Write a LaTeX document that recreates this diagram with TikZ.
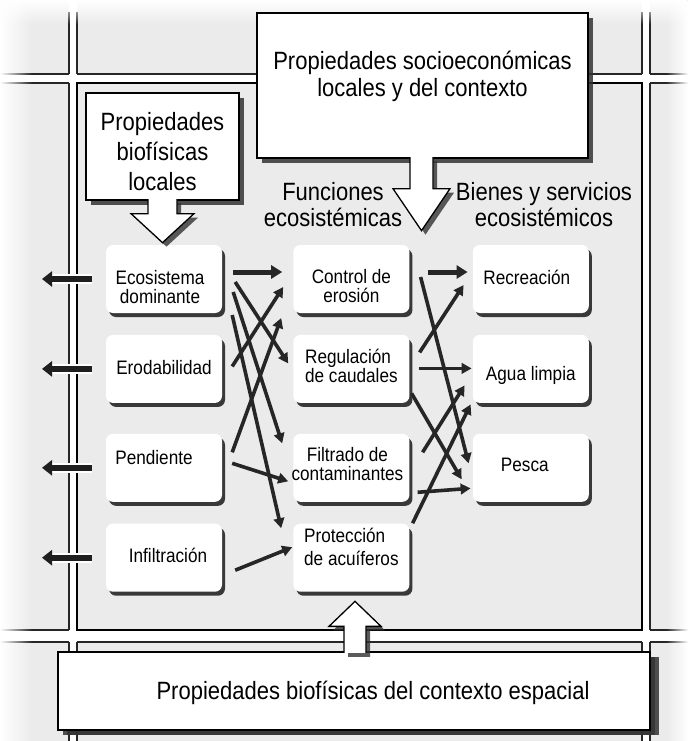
\documentclass[tikz,border=0pt]{standalone}
\usepackage{fontspec}
\setmainfont{Liberation Sans}[FakeStretch=0.88]
\usetikzlibrary{positioning, arrows.meta, shadows, fadings}

\tikzfading[name=fadedown, top color=transparent!0, bottom color=transparent!100]
\tikzfading[name=faderight, left color=transparent!0, right color=transparent!100]
\tikzfading[name=fadeleft, left color=transparent!100, right color=transparent!0]

\begin{document}
\begin{tikzpicture}[
    x=1pt, y=-1pt,
    panel/.style={fill=black!8},
    rim/.style={draw=black!85, line width=1.2pt},
    cell/.style={rectangle, rounded corners=7pt, fill=white, minimum width=116pt, minimum height=68pt, inner sep=0pt,
      drop shadow={shadow xshift=3pt, shadow yshift=-4pt, opacity=0.9, fill=black!85}},
    celltxt/.style={font=\fontsize{19.5}{19}\selectfont, align=center, inner sep=0pt},
    callout/.style={rectangle, draw, line width=1.3pt, fill=white, inner sep=0pt,
      drop shadow={shadow xshift=5pt, shadow yshift=-5pt, opacity=0.85, fill=black!80}},
    bigtxt/.style={font=\fontsize{25}{27}\selectfont, align=center, inner sep=0pt},
    bigarrow/.style={draw, line width=1.3pt, fill=white,
      drop shadow={shadow xshift=4pt, shadow yshift=-4pt, opacity=0.8, fill=black!80}},
    link/.style={draw=black!85, line width=3.6pt, -{Triangle[length=10pt, width=10.5pt]}},
    boldlink/.style={link, line width=5pt, -{Triangle[length=11pt, width=13pt]}},
    outarrow/.style={draw=black!88, line width=6pt, -{Triangle[length=10pt, width=15pt]},
      preaction={draw=white, line width=10pt, shorten >=9pt, arrows=-}}
  ]

  \useasboundingbox (0,0) rectangle (688,741);
  \fill[white] (0,0) rectangle (688,741);

  % grid of panels
  \foreach \xa/\xb in {0/69, 77/642, 650/688}
    \foreach \ya/\yb in {0/74, 83/630, 642/741}
      \fill[panel] (\xa,\ya) rectangle (\xb,\yb);
  \foreach \y in {74, 642}
    \draw[rim] (0,\y) -- (69,\y) (77,\y) -- (642,\y) (650,\y) -- (688,\y);
  \foreach \y in {83, 630}
    \draw[rim] (0,\y) -- (69,\y) (650,\y) -- (688,\y);
  \foreach \x in {69, 650}
    \draw[rim] (\x,12) -- (\x,74) (\x,83) -- (\x,630) (\x,642) -- (\x,741);
  \foreach \x in {77, 642}
    \draw[rim] (\x,12) -- (\x,74) (\x,642) -- (\x,741);
  \draw[line width=2.4pt] (77,83) rectangle (642,630);
  \fill[white, path fading=fadedown] (0,0) rectangle (688,24);
  \fill[white, path fading=faderight] (0,0) rectangle (32,741);
  \fill[white, path fading=fadeleft] (666,0) rectangle (688,741);

  % columns
  \node[cell, label={[celltxt, shift={(-4,8)}]center:{Ecosistema\\dominante}}] (eco) at (164,279) {};
  \node[cell, below=21.5pt of eco, label={[celltxt, shift={(0,-1.5)}]center:Erodabilidad}] (ero) {};
  \node[cell, below=30.5pt of ero, label={[celltxt, shift={(-10,-10.5)}]center:Pendiente}] (pen) {};
  \node[cell, below=21.5pt of pen, label={[celltxt, shift={(4,-2.5)}]center:Infiltración}] (inf) {};

  \node[cell, right=71pt of eco, label={[celltxt, shift={(0,7)}]center:{Control de\\erosión}}] (ctrl) {};
  \node[cell, right=71pt of ero, label={[celltxt, align=left, shift={(0,-2.5)}]center:{Regulación\\de caudales}}] (reg) {};
  \node[cell, right=71pt of pen, label={[celltxt, shift={(-4,-3.5)}]center:{Filtrado de\\contaminantes}}] (fil) {};
  \node[cell, right=71pt of inf, label={[celltxt, align=left, shift={(0,-11)}]center:{Protección\\[4pt]de acuíferos}}] (pro) {};

  \node[cell, right=63pt of ctrl, label={[celltxt, shift={(-4,-2)}]center:Recreación}] (rec) {};
  \node[cell, right=63pt of reg, label={[celltxt, shift={(0,6.5)}]center:Agua limpia}] (agua) {};
  \node[cell, right=63pt of fil, label={[celltxt, shift={(-6,-2.5)}]center:Pesca}] (pes) {};

  \node[bigtxt, font=\fontsize{25}{26}\selectfont] (fun) at (333,205) {Funciones\\ecosistémicas};
  \node[bigtxt, font=\fontsize{25}{26}\selectfont] (bie) at (544,205) {Bienes y servicios\\ecosistémicos};

  % outgoing arrows
  \coordinate (xout) at (42,0);
  \foreach \n in {eco, ero, pen, inf}
    \draw[outarrow] ([xshift=-14pt]\n.west) -- (\n.west -| xout);

  % links
  \draw[boldlink] ([shift={(11,-7)}]eco.east) -- ([shift={(-11,-7)}]ctrl.west);
  \draw[link] ([shift={(13,3)}]eco.east) -- ([shift={(-5,-5.5)}]reg.west);
  \draw[link] ([shift={(11,13)}]eco.east) -- ([shift={(-11,-24.5)}]fil.west);
  \draw[link] ([shift={(10,36)}]eco.east) -- ([shift={(-12,-29.5)}]pro.west);
  \draw[link] ([shift={(10,-2.5)}]ero.east) -- ([shift={(-10,8)}]ctrl.west);
  \draw[link] ([shift={(10,-15.5)}]pen.east) -- ([shift={(-12,39)}]ctrl.west);
  \draw[link] ([shift={(10,-4.5)}]pen.east) -- ([shift={(-5,13.5)}]fil.west);
  \draw[link] ([shift={(13,12.5)}]inf.east) -- ([shift={(-1,-10.5)}]pro.west);

  \draw[boldlink] ([shift={(18,-7)}]ctrl.east) -- ([shift={(-5,-7)}]rec.west);
  \draw[link] ([shift={(11,-2)}]ctrl.east) -- ([shift={(-4,-4.5)}]pes.west);
  \draw[link] ([shift={(10,-16.5)}]reg.east) -- ([shift={(-9,6)}]rec.west);
  \draw[link] ([shift={(9,-0.5)}]reg.east) -- ([shift={(-1,-0.5)}]agua.west);
  \draw[link] ([shift={(2,24.5)}]reg.east) -- ([shift={(-11,11.5)}]pes.west);
  \draw[link] ([shift={(13,-15.5)}]fil.east) -- ([shift={(-8,16.5)}]agua.west);
  \draw[link] ([shift={(8,24.5)}]fil.east) -- ([shift={(-2,20.5)}]pes.west);
  \draw[link] ([shift={(3,-34.5)}]pro.east) -- ([shift={(-2,35.5)}]agua.west);

  % callouts
  \node[callout, minimum width=331pt, minimum height=145pt,
    label={[bigtxt, shift={(0,-9)}]center:{Propiedades socioeconómicas\\locales y del contexto}}] (soc) at (422.5,85.5) {};
  \filldraw[bigarrow] ([shift={(-12.5,-1.5)}]soc.south) -- ++(0,31.5) -- ++(-17,0) -- ++(28.5,42)
    -- ++(28.5,-42) -- ++(-17,0) -- ++(0,-31.5);

  \node[callout, minimum width=153pt, minimum height=107pt,
    label={[bigtxt, font=\fontsize{25}{30}\selectfont, shift={(0,5.5)}]center:{Propiedades\\biofísicas\\locales}}] (bio) at (162.5,146.5) {};
  \filldraw[bigarrow] ([shift={(-14.5,-1.5)}]bio.south) -- ++(0,14.5) -- ++(-17,0) -- ++(31.5,29)
    -- ++(31.5,-29) -- ++(-17,0) -- ++(0,-14.5);

  \node[callout, minimum width=592pt, minimum height=78pt,
    drop shadow={shadow xshift=9pt, shadow yshift=-5pt, opacity=0.85, fill=black!80},
    label={[bigtxt, shift={(19,2)}]center:{Propiedades biofísicas del contexto espacial}}] (bot) at (354,691) {};
  \filldraw[bigarrow] ([shift={(-10,1.5)}]bot.north) -- ++(0,-26.5) -- ++(-15,0) -- ++(26,-25)
    -- ++(26,25) -- ++(-15,0) -- ++(0,26.5);

\end{tikzpicture}
\end{document}
